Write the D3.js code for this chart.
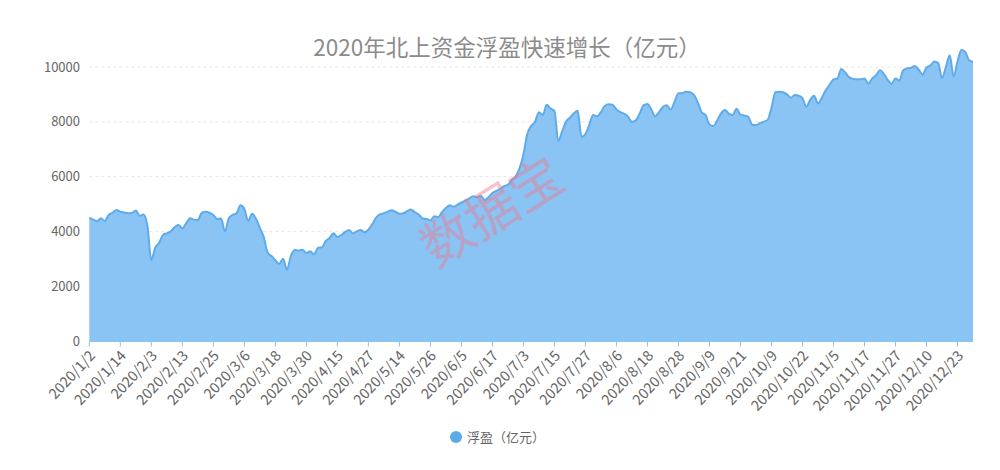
<!DOCTYPE html>
<html><head><meta charset="utf-8">
<script src="https://cdn.jsdelivr.net/npm/d3@7/dist/d3.min.js"></script>
<style>body{margin:0;background:#fff}svg{display:block}</style>
</head><body>
<svg id="c" width="1000" height="470"></svg>
<script>
const title = "2020年北上资金浮盈快速增长（亿元）";
const seriesName = "浮盈（亿元）";
const watermark = "数据宝";
const yTicks = [0, 2000, 4000, 6000, 8000, 10000];
const dates = [
"2020/1/2","2020/1/3","2020/1/6","2020/1/7","2020/1/8","2020/1/9","2020/1/10","2020/1/13","2020/1/14","2020/1/15","2020/1/16","2020/1/17","2020/1/20","2020/1/21","2020/1/22","2020/1/23",
"2020/2/3","2020/2/4","2020/2/5","2020/2/6","2020/2/7","2020/2/10","2020/2/11","2020/2/12","2020/2/13","2020/2/14","2020/2/17","2020/2/18","2020/2/19","2020/2/20","2020/2/21","2020/2/24","2020/2/25","2020/2/26","2020/2/27","2020/2/28",
"2020/3/2","2020/3/3","2020/3/4","2020/3/5","2020/3/6","2020/3/9","2020/3/10","2020/3/11","2020/3/12","2020/3/13","2020/3/16","2020/3/17","2020/3/18","2020/3/19","2020/3/20","2020/3/23","2020/3/24","2020/3/25","2020/3/26","2020/3/27","2020/3/30","2020/3/31",
"2020/4/1","2020/4/2","2020/4/3","2020/4/7","2020/4/8","2020/4/14","2020/4/15","2020/4/16","2020/4/17","2020/4/20","2020/4/21","2020/4/22","2020/4/23","2020/4/24","2020/4/27","2020/4/28",
"2020/5/6","2020/5/7","2020/5/8","2020/5/11","2020/5/12","2020/5/13","2020/5/14","2020/5/15","2020/5/18","2020/5/19","2020/5/20","2020/5/21","2020/5/22","2020/5/25","2020/5/26","2020/5/27","2020/5/28","2020/5/29",
"2020/6/1","2020/6/2","2020/6/3","2020/6/4","2020/6/5","2020/6/8","2020/6/9","2020/6/10","2020/6/11","2020/6/12","2020/6/15","2020/6/16","2020/6/17","2020/6/18","2020/6/19","2020/6/22","2020/6/23","2020/6/29","2020/6/30",
"2020/7/2","2020/7/3","2020/7/6","2020/7/7","2020/7/8","2020/7/9","2020/7/10","2020/7/13","2020/7/14","2020/7/15","2020/7/16","2020/7/17","2020/7/20","2020/7/21","2020/7/22","2020/7/23","2020/7/24","2020/7/27","2020/7/28","2020/7/29","2020/7/30","2020/7/31",
"2020/8/3","2020/8/4","2020/8/5","2020/8/6","2020/8/7","2020/8/10","2020/8/11","2020/8/12","2020/8/13","2020/8/14","2020/8/17","2020/8/18","2020/8/19","2020/8/20","2020/8/21","2020/8/24","2020/8/25","2020/8/26","2020/8/27","2020/8/28","2020/8/31",
"2020/9/1","2020/9/2","2020/9/3","2020/9/4","2020/9/7","2020/9/8","2020/9/9","2020/9/10","2020/9/11","2020/9/14","2020/9/15","2020/9/16","2020/9/17","2020/9/18","2020/9/21","2020/9/22","2020/9/23","2020/9/24","2020/9/25","2020/9/28","2020/9/29","2020/9/30",
"2020/10/9","2020/10/12","2020/10/14","2020/10/15","2020/10/16","2020/10/19","2020/10/20","2020/10/21","2020/10/22","2020/10/27","2020/10/28","2020/10/29","2020/10/30",
"2020/11/2","2020/11/3","2020/11/4","2020/11/5","2020/11/6","2020/11/9","2020/11/10","2020/11/11","2020/11/12","2020/11/13","2020/11/16","2020/11/17","2020/11/18","2020/11/19","2020/11/20","2020/11/23","2020/11/24","2020/11/25","2020/11/26","2020/11/27","2020/11/30",
"2020/12/1","2020/12/2","2020/12/3","2020/12/7","2020/12/8","2020/12/9","2020/12/10","2020/12/11","2020/12/14","2020/12/15","2020/12/16","2020/12/17","2020/12/18","2020/12/22","2020/12/23","2020/12/28","2020/12/29","2020/12/30","2020/12/31"
];
const profit = [
4500,4430,4370,4480,4380,4600,4680,4780,4720,4690,4660,4670,4760,4570,4620,4200,
2950,3400,3580,3870,3930,4000,4150,4230,4110,4300,4480,4430,4420,4680,4720,4680,4600,4450,4470,4000,
4480,4600,4660,4950,4820,4380,4640,4460,4130,3800,3230,3100,2950,2820,3000,2600,3100,3320,3300,3330,3210,3280,
3160,3400,3420,3650,3760,3930,3800,3860,3980,4050,3930,4000,4050,3970,4060,4260,
4500,4620,4660,4720,4770,4720,4640,4660,4740,4800,4700,4620,4470,4450,4400,4550,4520,4700,
4850,4950,4900,4980,5050,5120,5200,5280,5250,5300,5150,5250,5400,5480,5550,5650,5700,5880,6000,
6300,6800,7550,7850,8000,8350,8250,8620,8480,8400,7300,7650,8000,8150,8300,8400,7450,7550,7900,8250,8200,8350,
8580,8640,8620,8450,8350,8300,8190,8000,8050,8300,8600,8650,8450,8200,8350,8550,8600,8450,8730,9040,9050,
9100,9080,8980,8700,8350,8250,7900,7850,8050,8310,8430,8300,8250,8480,8260,8230,8180,7900,7880,7950,8000,8070,
8500,9080,9100,9080,9000,8880,8980,8950,8860,8550,8800,8950,8670,
8880,9150,9350,9550,9580,9930,9800,9630,9570,9550,9550,9580,9400,9580,9700,9880,9750,9530,9380,9580,9500,
9880,9950,9970,10040,9900,9730,9980,10050,10200,10150,9600,10000,10430,9650,10200,10620,10550,10250,10190
];

const svg = d3.select("#c");
const font = "'Noto Sans CJK SC','Noto Sans',sans-serif";
const x = d3.scalePoint().domain(dates).range([89.3, 973]);
const y = d3.scaleLinear().domain([0, 10000]).range([341, 67]);

// grid
svg.append("g").selectAll("line").data(yTicks.filter(d => d > 0)).join("line")
  .attr("x1", 89.3).attr("x2", 973).attr("y1", d => y(d)).attr("y2", d => y(d))
  .attr("stroke", "#e6e6e6").attr("stroke-dasharray", "3,3");

// y labels
svg.append("g").selectAll("text").data(yTicks).join("text")
  .attr("x", 80).attr("y", d => y(d)).attr("dy", "0.35em")
  .attr("text-anchor", "end").attr("font-family", font).attr("font-size", 13).attr("fill", "#666")
  .text(d => d);

const data = dates.map((d, i) => ({d, v: profit[i]}));
svg.append("path").datum(data)
  .attr("d", d3.area().x(p => x(p.d)).y0(y(0)).y1(p => y(p.v)).curve(d3.curveMonotoneX))
  .attr("fill", "#89c4f4");
svg.append("path").datum(data)
  .attr("d", d3.line().x(p => x(p.d)).y(p => y(p.v)).curve(d3.curveMonotoneX))
  .attr("fill", "none").attr("stroke", "#5fabea").attr("stroke-width", 2);

// x axis
svg.append("line").attr("x1", 89.3).attr("x2", 973).attr("y1", 341.5).attr("y2", 341.5)
  .attr("stroke", "#8fc1ea").attr("stroke-width", 1);
const tickDates = dates.filter((d, i) => i % 8 === 0);
svg.append("g").selectAll("line").data(tickDates).join("line")
  .attr("x1", d => x(d)).attr("x2", d => x(d)).attr("y1", 341.5).attr("y2", 346.5)
  .attr("stroke", "#8fc1ea");
svg.append("g").selectAll("text").data(tickDates).join("text")
  .attr("transform", d => `translate(${x(d) + 3},${353}) rotate(-47)`)
  .attr("text-anchor", "end").attr("dy", "0.35em")
  .attr("font-family", font).attr("font-size", 14.5).attr("fill", "#666")
  .text(d => d);

// title
svg.append("text").attr("x", 507).attr("y", 56).attr("text-anchor", "middle")
  .attr("font-family", font).attr("font-size", 22.5).attr("fill", "#8c8c8c").text(title);

// legend
svg.append("circle").attr("cx", 456).attr("cy", 437).attr("r", 6).attr("fill", "#5aaae8");
svg.append("text").attr("x", 467).attr("y", 437).attr("dy", "0.35em")
  .attr("font-family", font).attr("font-size", 13).attr("fill", "#666").text(seriesName);

// watermark
svg.append("text").attr("transform", "translate(492,212) rotate(-32)")
  .attr("text-anchor", "middle").attr("dy", "0.35em")
  .attr("font-family", font).attr("font-size", 52).attr("fill", "rgba(240,120,140,0.45)")
  .text(watermark);
</script>
</body></html>
